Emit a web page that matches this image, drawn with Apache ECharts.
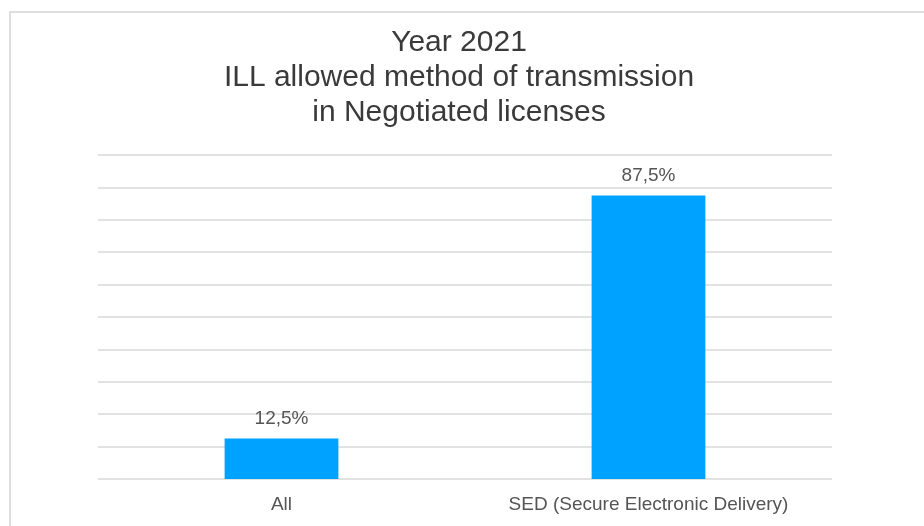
<!DOCTYPE html>
<html><head><meta charset="utf-8">
<script src="https://cdn.jsdelivr.net/npm/echarts@6/dist/echarts.min.js"></script>
<style>html,body{margin:0;padding:0;background:#fff}#c{width:924px;height:526px}</style>
</head><body><div id="c"></div>
<script>
const titleLines = ["Year 2021", "ILL allowed method of transmission", "in Negotiated licenses"];
const categories = ["All", "SED (Secure Electronic Delivery)"];
const values = [12.5, 87.5];
const yMin = 0, yMax = 100, yInterval = 10;

const chart = echarts.init(document.getElementById('c'), null, {renderer: 'canvas'});
chart.setOption({
  animation: false,
  backgroundColor: '#fff',
  graphic: [{
    type: 'rect', shape: {x: 10, y: 12, width: 1000, height: 600},
    style: {fill: 'none', stroke: '#dedede', lineWidth: 2}, silent: true
  }],
  title: {
    text: titleLines.join('\n'), left: 454, textAlign: 'center', top: 20,
    textStyle: {fontFamily: 'Liberation Sans, Arial, sans-serif', fontSize: 30, fontWeight: 'normal', color: '#3a3a3a', lineHeight: 35}
  },
  grid: {left: 98, right: 92, top: 155, bottom: 47, containLabel: false},
  xAxis: {
    type: 'category', data: categories,
    axisLine: {show: false}, axisTick: {show: false},
    axisLabel: {color: '#555', fontSize: 19, margin: 16, fontFamily: 'Liberation Sans, Arial, sans-serif'}
  },
  yAxis: {
    type: 'value', min: yMin, max: yMax, interval: yInterval,
    axisLabel: {show: false}, axisLine: {show: false}, axisTick: {show: false},
    splitLine: {lineStyle: {color: '#d9d9d9', width: 1.5}}
  },
  series: [{
    type: 'bar', data: values, barWidth: '31%',
    itemStyle: {color: '#00a2ff'},
    label: {show: true, position: 'top', distance: 10, color: '#555', fontSize: 19,
      fontFamily: 'Liberation Sans, Arial, sans-serif',
      formatter: p => p.value.toFixed(1).replace('.', ',') + '%'}
  }]
});
</script></body></html>
